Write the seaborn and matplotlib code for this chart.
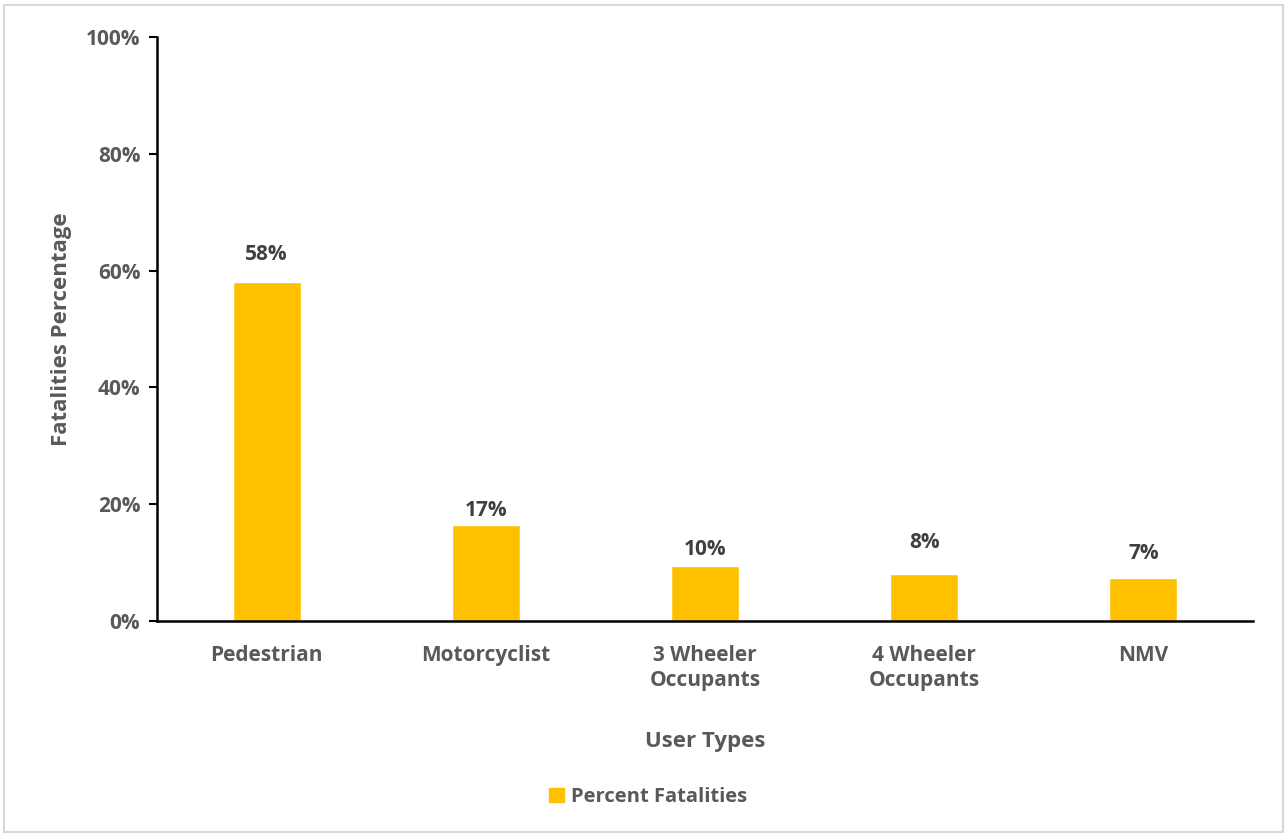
import matplotlib
matplotlib.use("Agg")
import matplotlib.pyplot as plt
import seaborn as sns
import pandas as pd
import numpy as np
from matplotlib.patches import Rectangle, Patch

categories = ["Pedestrian", "Motorcyclist", "3 Wheeler\nOccupants", "4 Wheeler\nOccupants", "NMV"]
values = [58.0, 16.5, 9.4, 8.0, 7.3]
labels = ["58%", "17%", "10%", "8%", "7%"]
yticks = [0, 20, 40, 60, 80, 100]
ytick_labels = ["0%", "20%", "40%", "60%", "80%", "100%"]
series_name = "Percent Fatalities"

# layout: vertical gap (in y-units) between bar top and its label centre, as placed in the original
label_gaps = [4.7, 2.5, 2.9, 5.5, 4.3]

sns.set_theme(style="white")
plt.rcParams['font.family'] = ['Open Sans', 'DejaVu Sans']
txt = "#595959"
bar_color = "#FFC000"

df = pd.DataFrame({"cat": categories, "val": values})

fig = plt.figure(figsize=(12.87, 8.35), dpi=100)
ax = fig.add_axes([157/1287, 1-621/835, (1253-157)/1287, (621-37)/835])
sns.barplot(data=df, x="cat", y="val", color=bar_color, width=0.31, ax=ax, saturation=1)

ax.set_ylim(0, 100)
ax.set_xlim(-0.5, len(categories)-0.5)
ax.set_yticks(yticks)
ax.set_yticklabels(ytick_labels, fontsize=15, fontweight="bold", color=txt)
ax.set_xticks(range(len(categories)))
ax.set_xticklabels(categories, fontsize=15, fontweight="bold", color=txt, linespacing=1.25, va="top")
ax.set_xticks(np.arange(-0.5, len(categories)), minor=True)
ax.tick_params(axis="x", which="major", length=0, pad=17)
ax.tick_params(axis="x", which="minor", length=6, width=1.5, color="black", direction="out")
ax.tick_params(axis="y", length=6, width=1.5, color="black", direction="out", left=True, pad=6)

for s in ["top", "right"]:
    ax.spines[s].set_visible(False)
for s in ["left", "bottom"]:
    ax.spines[s].set_color("black")
    ax.spines[s].set_linewidth(1.8)

for i, (v, lab, g) in enumerate(zip(values, labels, label_gaps)):
    ax.text(i, v + g, lab, ha="center", va="center", fontsize=15, fontweight="bold", color="#404040")

ax.set_xlabel("User Types", fontsize=16, fontweight="bold", color=txt)
ax.set_ylabel("Fatalities Percentage", fontsize=16, fontweight="bold", color=txt)
ax.xaxis.set_label_coords(0.5, (621-742)/584)
ax.yaxis.set_label_coords((62-157)/1096, 0.5)
ax.xaxis.label.set_va("center")
ax.yaxis.label.set_va("center")

leg = fig.legend(handles=[Patch(color=bar_color, label=series_name)], loc="center",
                 bbox_to_anchor=(648/1287, 1-797/835), frameon=False,
                 handlelength=0.75, handleheight=0.75, handletextpad=0.3,
                 prop={"size": 14.5, "weight": "bold"})
for t in leg.get_texts():
    t.set_color(txt)

fig.patches.append(Rectangle((4/1287, 3/835), 1-8/1287, 1-8/835, transform=fig.transFigure,
                             fill=False, edgecolor="#d9d9d9", linewidth=1.5))

fig.savefig("out.png", dpi=100, facecolor="white")
